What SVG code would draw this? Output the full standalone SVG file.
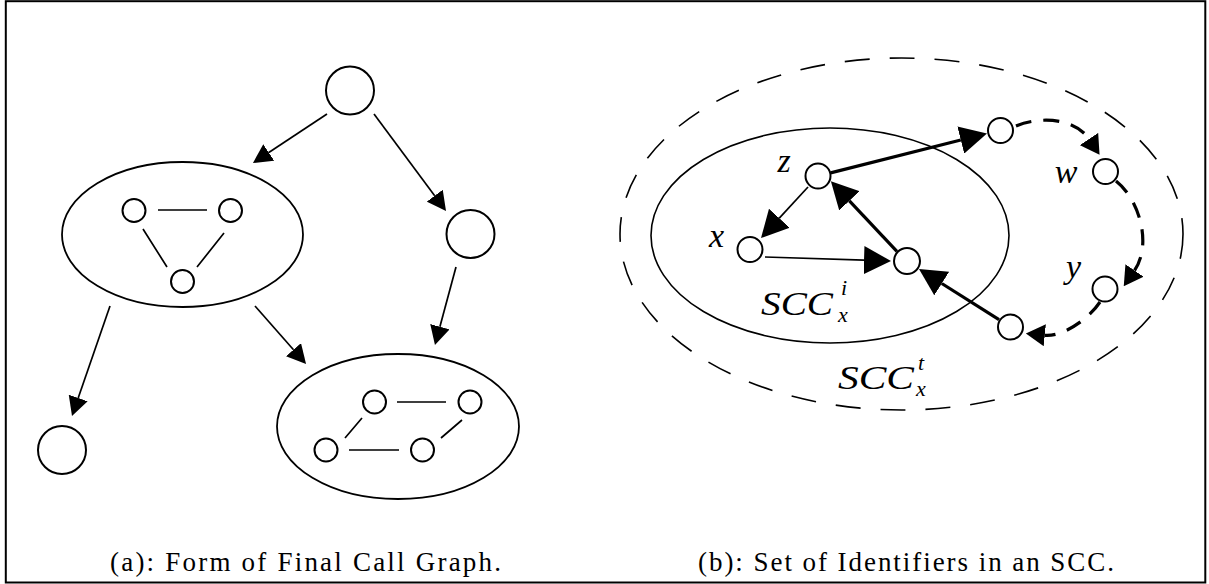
<svg xmlns="http://www.w3.org/2000/svg" width="1209" height="584" viewBox="0 0 1209 584">
<defs>
<style>
.frame{fill:none;stroke:#000;stroke-width:2}
.node{fill:#fff;stroke:#000;stroke-width:2}
.scc{fill:none;stroke:#000;stroke-width:1.8}
.thin{fill:none;stroke:#000;stroke-width:1.7}
.thick{fill:none;stroke:#000;stroke-width:3.2}
.dash{fill:none;stroke:#000;stroke-width:3.2;stroke-dasharray:16 12}
.outer{fill:none;stroke:#000;stroke-width:1.6;stroke-dasharray:25 20}
.inner{fill:none;stroke:#000;stroke-width:1.6}
.cap{font-family:"Liberation Serif",serif;font-size:27px}
.lbl{font-family:"Liberation Serif",serif;font-style:italic;font-size:34px}
.scr{font-family:"Liberation Serif",serif;font-style:italic;font-size:22px}
</style>
<marker id="ah" markerUnits="userSpaceOnUse" markerWidth="19" markerHeight="20" refX="0" refY="10" orient="auto" viewBox="0 0 19 20"><path d="M0,0 L19,10 L0,20 z" fill="#000"/></marker>
<marker id="ahb" markerUnits="userSpaceOnUse" markerWidth="27" markerHeight="28" refX="0" refY="14" orient="auto" viewBox="0 0 27 28"><path d="M0,0 L27,14 L0,28 z" fill="#000"/></marker>
<marker id="ahd" markerUnits="userSpaceOnUse" markerWidth="19" markerHeight="22" refX="0" refY="11" orient="auto" viewBox="0 0 19 22"><path d="M0,0 L19,11 L0,22 z" fill="#000"/></marker>
</defs>
<rect class="frame" x="5.8" y="1.2" width="1199.5" height="581.3" fill="#fff"/>

<g id="outer-scc"><ellipse class="outer" cx="901.5" cy="234" rx="281.5" ry="176"/></g>
<g id="inner-scc"><ellipse class="inner" cx="830" cy="235.5" rx="179" ry="107.5"/></g>

<g id="connectors">
<path class="thin" d="M327,114 L268.8,152.5" marker-end="url(#ah)"/>
<path class="thin" d="M374,114 L434.7,195.7" marker-end="url(#ah)"/>
<path class="thin" d="M456,267 L439.9,326.7" marker-end="url(#ah)"/>
<path class="thin" d="M110,306 L78.2,398" marker-end="url(#ah)"/>
<path class="thin" d="M255,306 L293.5,349.7" marker-end="url(#ah)"/>
<path class="thin" d="M808,187 L779.3,218.2" marker-end="url(#ahb)"/>
<path class="thin" d="M765,257 L864,260.1" marker-end="url(#ahb)"/>
<path class="thick" d="M896.9,251.3 L849.4,200.8" marker-end="url(#ahb)"/>
<path class="thick" d="M999,319.7 L941.8,283.5" marker-end="url(#ahb)"/>
<path class="thick" d="M830.6,172.9 L960.8,140" marker-end="url(#ahb)"/>
<path class="dash" d="M1016,126 C1040,116 1075,118 1089,139" marker-end="url(#ahd)"/>
<path class="dash" d="M1116,181 C1140,200 1152,245 1134.5,270.5" marker-end="url(#ahd)"/>
<path class="dash" d="M1100,302 C1088,320 1062,337 1044.8,335.3" marker-end="url(#ahd)"/>
</g>

<g id="node-top"><circle class="node" cx="350" cy="90.5" r="24"/></g>
<g id="node-right"><circle class="node" cx="470.5" cy="234" r="24"/></g>
<g id="node-bottom-left"><circle class="node" cx="62" cy="450" r="24"/></g>
<g id="scc-left">
<ellipse class="scc" cx="182.5" cy="234.5" rx="120.5" ry="72.5"/>
<path class="thin" d="M158,210 L207,210 M143,229 L167,267 M224,233 L197,267"/>
<circle class="node" cx="134" cy="210.5" r="11.5"/>
<circle class="node" cx="230.5" cy="210.5" r="11.5"/>
<circle class="node" cx="182.5" cy="281.5" r="11.5"/>
</g>
<g id="scc-right">
<ellipse class="scc" cx="398" cy="426.5" rx="121" ry="72.5"/>
<path class="thin" d="M397,402 L446,402 M349,450 L399,450 M362,418 L345,438 M462,420 L441,438"/>
<circle class="node" cx="374.5" cy="402" r="11.5"/>
<circle class="node" cx="470" cy="402" r="11.5"/>
<circle class="node" cx="326" cy="450" r="11.5"/>
<circle class="node" cx="422.5" cy="450" r="11.5"/>
</g>

<g id="node-z"><circle class="node" cx="818" cy="176" r="12.5"/><text class="lbl" x="784" y="172" text-anchor="middle">z</text></g>
<g id="node-x"><circle class="node" cx="750" cy="249.5" r="12.5"/><text class="lbl" x="716.5" y="247" text-anchor="middle">x</text></g>
<g id="node-mid"><circle class="node" cx="907" cy="261" r="13"/></g>
<g id="node-top-right"><circle class="node" cx="1000.5" cy="130.5" r="12.5"/></g>
<g id="node-w"><circle class="node" cx="1105.5" cy="171.5" r="12.5"/><text class="lbl" x="1066" y="183" text-anchor="middle">w</text></g>
<g id="node-y"><circle class="node" cx="1105" cy="289" r="12.5"/><text class="lbl" x="1073.5" y="278" text-anchor="middle">y</text></g>
<g id="node-bottom"><circle class="node" cx="1010.5" cy="327" r="12.5"/></g>

<g id="label-scc-i"><text class="lbl" x="761" y="315" textLength="72" lengthAdjust="spacingAndGlyphs">SCC</text><text class="scr" x="841" y="295">i</text><text class="scr" x="838" y="322">x</text></g>
<g id="label-scc-t"><text class="lbl" x="838" y="389" textLength="76" lengthAdjust="spacingAndGlyphs">SCC</text><text class="scr" x="918" y="370">t</text><text class="scr" x="916" y="396">x</text></g>

<g id="captions">
<text class="cap" x="110" y="571" textLength="391">(a): Form of Final Call Graph.</text>
<text class="cap" x="698" y="571" textLength="416">(b): Set of Identifiers in an SCC.</text>
</g>
</svg>
